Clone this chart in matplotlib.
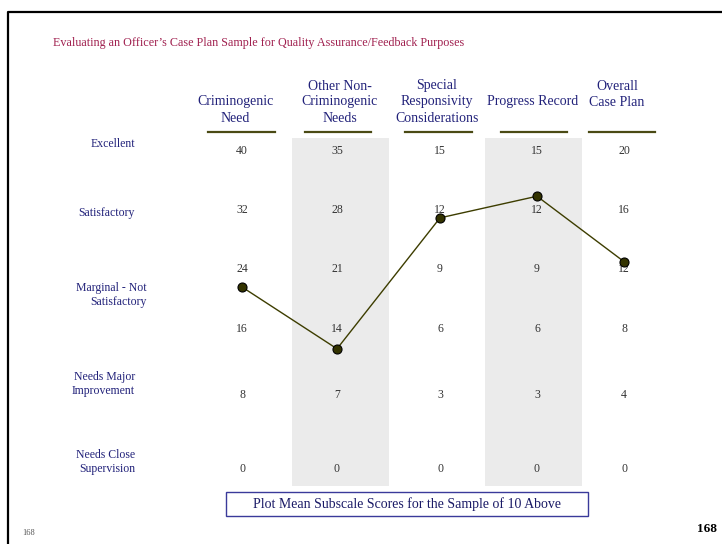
import numpy as np
import matplotlib
matplotlib.use("Agg")
import matplotlib.pyplot as plt
from matplotlib.patches import Rectangle

# datos del grafico
titulo = "Evaluating an Officer\u2019s Case Plan Sample for Quality Assurance/Feedback Purposes"
subescalas = ["Criminogenic\nNeed", "Other Non-\nCriminogenic\nNeeds",
              "Special\nResponsivity\nConsiderations", "Progress Record", "Overall\nCase Plan"]
calificaciones = ["Excellent", "Satisfactory", "Marginal - Not\nSatisfactory",
                  "Needs Major\nImprovement", "Needs Close\nSupervision"]
escala_crim = [40, 32, 24, 16, 8, 0]
escala_otras = [35, 28, 21, 14, 7, 0]
escala_esp = [15, 12, 9, 6, 3, 0]
escala_prog = [15, 12, 9, 6, 3, 0]
escala_total = [20, 16, 12, 8, 4, 0]
escalas = [escala_crim, escala_otras, escala_esp, escala_prog, escala_total]
medias = [21.6, 11.9, 11.6, 12.7, 12.5]
leyenda = "Plot Mean Subscale Scores for the Sample of 10 Above"
pagina = "168"

# posiciones (pixeles de la pagina)
col_x = [242, 337, 440, 537, 624]
fila_y = [151, 210, 269, 329, 395, 469]
enc_x = [235, 340, 437, 533, 617]
enc_y = [110, 102, 102, 102, 95]
rayas = [(208, 275), (305, 371), (405, 472), (501, 567), (589, 655)]
bandas = [(292, 389), (485, 582)]
etiq_y = [144, 213, 295, 384, 462]
etiq_x = [135, 135, 147, 135, 135]

serif = ["Liberation Serif", "DejaVu Serif"]
azul = "#22227a"
oliva = "#3d3d00"

fig = plt.figure(figsize=(7.22, 5.44), dpi=100)
ax = fig.add_axes([0, 0, 1, 1])
ax.set_xlim(0, 722)
ax.set_ylim(544, 0)
ax.axis("off")

# marco de la pagina
ax.plot([8, 8, 722], [544, 12, 12], color="black", lw=1.6, solid_capstyle="butt")

ax.text(53, 43, titulo, family=serif, fontsize=8.7, color="#a0204f", va="center")

for x0, x1 in bandas:
    ax.add_patch(Rectangle((x0, 138), x1 - x0, 486 - 138, color="#ebebeb", lw=0, zorder=0))

for i, nombre in enumerate(subescalas):
    ax.text(enc_x[i], enc_y[i], nombre, family=serif, fontsize=10, color=azul,
            ha="center", va="center", linespacing=1.3)
    ax.plot(rayas[i], [132, 132], color="#4a4a14", lw=1.6)
    for j, v in enumerate(escalas[i]):
        ax.text(col_x[i], fila_y[j], str(v), family=serif, fontsize=8.5, color="#333333",
                ha="center", va="center")

for k, c in enumerate(calificaciones):
    ax.text(etiq_x[k], etiq_y[k], c, family=serif, fontsize=8.5, color=azul,
            ha="right", va="center", multialignment="right", linespacing=1.2)

# convertir cada media a la posicion vertical de su columna
ys = [np.interp(m, esc[::-1], fila_y[::-1]) for m, esc in zip(medias, escalas)]
ax.plot(col_x, ys, color=oliva, lw=1.0, marker="o", markersize=6.5,
        markerfacecolor="#333300", markeredgecolor="black", markeredgewidth=0.8, zorder=3)

ax.add_patch(Rectangle((226, 492), 362, 24, fill=False, edgecolor="#3a3a9a", lw=1.0))
ax.text(407, 504, leyenda, family=serif, fontsize=10, color="#1a1a66", ha="center", va="center")

ax.text(22, 533, pagina, family=serif, fontsize=6, color="#555555", va="center")
ax.text(717, 529, pagina, family=serif, fontsize=9.5, fontweight="bold", color="black",
        ha="right", va="center")

fig.savefig("out.png", dpi=100)
